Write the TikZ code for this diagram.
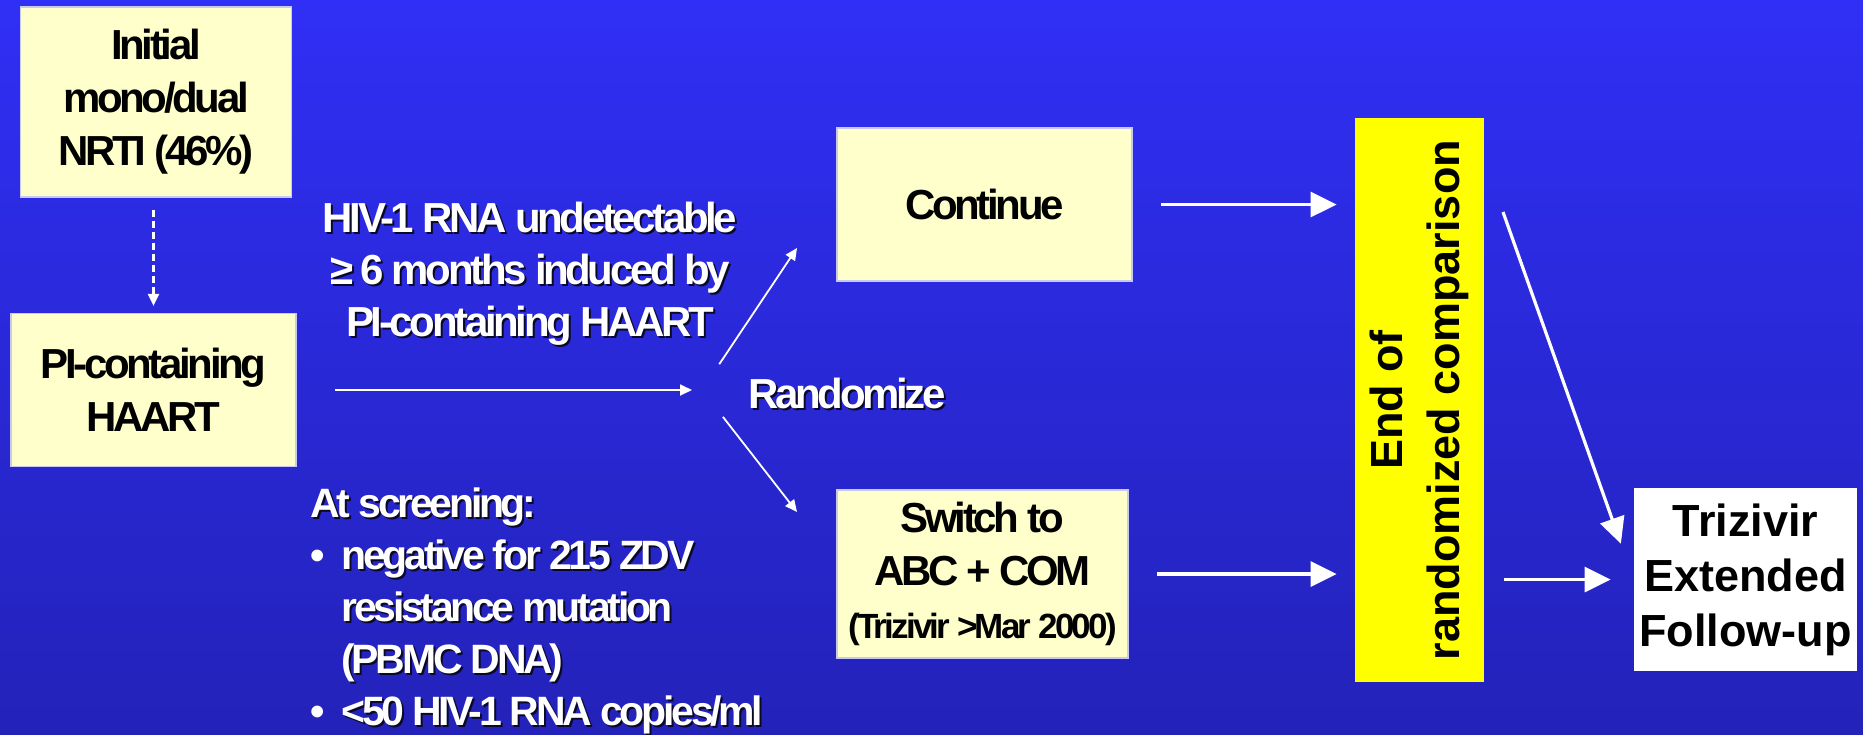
\documentclass[tikz,border=0pt]{standalone}
\usepackage{fontspec}
\setmainfont{Liberation Sans}
\newfontfamily\tightfont[LetterSpace=-8]{Liberation Sans}
\usetikzlibrary{arrows.meta,positioning,calc}

\definecolor{bgtop}{RGB}{48,47,245}
\definecolor{bgbot}{RGB}{35,34,185}
\definecolor{boxfill}{RGB}{255,255,204}
\definecolor{boxline}{RGB}{200,200,240}
\definecolor{barfill}{RGB}{255,255,0}
\definecolor{shadowc}{RGB}{10,10,40}

% white text with a small drop shadow
\newcommand{\sh}[1]{\makebox[0pt][l]{\kern1pt\raisebox{-1pt}{\textcolor{shadowc}{#1}}}#1}

\begin{document}
\begin{tikzpicture}[
    x=0.5pt, y=-0.5pt,
    box/.style={rectangle, draw=boxline, line width=0.6pt, fill=boxfill, align=center, inner sep=0pt, font=\tightfont\bfseries\fontsize{21}{26.5}\selectfont},
    note/.style={text=white, inner sep=0pt, font=\tightfont\bfseries\fontsize{21}{26}\selectfont},
    bar/.style={rectangle, fill=barfill, align=center, rotate=90, inner sep=0pt, minimum width=282pt, minimum height=64.5pt, font=\bfseries\fontsize{22.5}{28.5}\selectfont},
    result/.style={rectangle, fill=white, align=center, inner sep=0pt, minimum width=111.5pt, minimum height=91.5pt, font=\bfseries\fontsize{22.5}{27.5}\selectfont},
    arrow/.style={-{Triangle[length=6pt,width=5.5pt]}, white, line width=0.9pt},
    bigarrow/.style={-{Triangle[length=13pt,width=12.5pt]}, white, line width=1.6pt},
    dasharrow/.style={-{Triangle[length=6pt,width=5.5pt]}, white, line width=1.1pt, dash pattern=on 3.5pt off 2pt}
]
    \useasboundingbox (0,0) rectangle (1863,734);
    \shade[top color=bgtop, bottom color=bgbot] (0,0) rectangle (1863,734);

    % Pre-study treatment
    \node[box, minimum width=135.5pt, minimum height=95pt] (init) at (156,102) {Initial\\mono/dual\\NRTI (46\%)};
    \node[box, minimum width=142.5pt, minimum height=76.5pt] (pi) at (153.5,390) {PI-containing\\HAART};

    % Entry criteria
    \node[note, align=center] (crit) at (530,275) {\sh{HIV-1 RNA undetectable}\\\sh{≥\,6 months induced by}\\\sh{PI-containing HAART}};
    \node[note, align=left, anchor=north west, font=\tightfont\bfseries\fontsize{20.5}{26}\selectfont] (screen) at (310,487)
        {\sh{At screening:}\\
         \makebox[15.5pt][l]{\textbullet}\sh{negative for 215 ZDV}\\
         \hspace*{15.5pt}\sh{resistance mutation}\\
         \hspace*{15.5pt}\sh{(PBMC DNA)}\\
         \makebox[15.5pt][l]{\textbullet}\sh{<50 HIV-1 RNA copies/ml}};

    % Randomization
    \coordinate (fork) at (702,390);
    \node[note, anchor=base west] (rand) at (748,408) {\sh{Randomize}};
    \coordinate (upend) at (797,248);
    \coordinate (downend) at (797,512);

    % Study arms
    \node[box, minimum width=147.5pt, minimum height=76.5pt] (cont) at (984.5,204.5) {Continue};
    \node[box, minimum width=145.5pt, minimum height=84pt] (switch) at (982.5,574) {Switch to\\ABC + COM\\[0pt]{\fontsize{17.5}{20}\selectfont (Trizivir >Mar 2000)}};

    % End of comparison and follow-up
    \node[bar] (endbar) at (1419.5,400) {End of\\randomized comparison};
    \node[result] (triz) at (1745.5,579.5) {Trizivir\\Extended\\Follow-up};
    \coordinate (diagtop) at (1503,212);

    % Connections
    \draw[dasharrow, shorten <=6pt, shorten >=3.5pt] (pi.north |- init.south) -- (pi.north);
    \draw[arrow, shorten <=19pt, shorten >=5pt] (pi.east) -- (fork);
    \draw[arrow, shorten <=15.5pt] (fork) -- (upend);
    \draw[arrow, shorten <=17pt] (fork) -- (downend);
    \draw[bigarrow, shorten <=14pt, shorten >=9pt] (cont.east) -- (cont.east -| endbar.north);
    \draw[bigarrow, shorten <=14pt, shorten >=9pt] (switch.east) -- (switch.east -| endbar.north);
    \draw[bigarrow, shorten <=10pt, shorten >=11.5pt] (endbar.south |- triz.west) -- (triz.west);
    \draw[bigarrow, shorten >=19pt] (diagtop) -- (triz.west);
\end{tikzpicture}
\end{document}
